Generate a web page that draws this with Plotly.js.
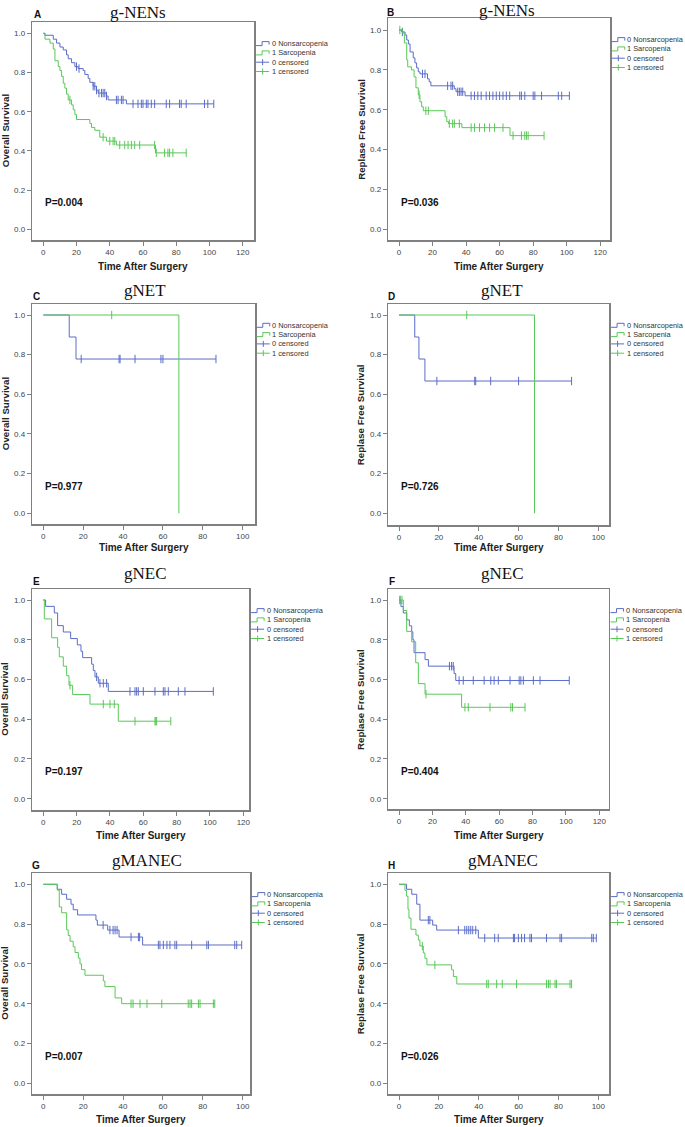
<!DOCTYPE html>
<html><head><meta charset="utf-8">
<script src="https://cdn.plot.ly/plotly-3.0.1.min.js"></script>
<style>html,body{margin:0;padding:0;background:#fff}#chart{width:685px;height:1127px}</style>
</head><body><div id="chart"></div>
<script>
// ---------- DATA ----------
// Panel A: Overall Survival, g-NENs
const A_non_t = [0, 1, 6, 8, 10, 12, 14, 15, 17, 19, 21, 24, 25, 27, 28, 30, 32, 33, 38, 39, 50];
const A_non_s = [1.0, 0.99, 0.97, 0.95, 0.93, 0.915, 0.89, 0.87, 0.85, 0.83, 0.82, 0.81, 0.79, 0.77, 0.75, 0.73, 0.71, 0.695, 0.68, 0.66, 0.64];
const A_non_end = 102.6;
const A_non_c = [20, 21.5, 30, 31, 32, 33.5, 35, 36, 37, 38, 44, 45, 47, 48, 54, 57, 59, 60, 62, 63, 65, 67, 74, 76, 82, 83, 86, 97, 99, 102.6];
const A_sar_t = [0, 1, 4, 6, 7, 9, 10, 11, 12, 13, 14, 15, 17, 18, 19, 20, 28, 29, 31, 34, 38, 44, 67.5];
const A_sar_s = [1.0, 0.97, 0.95, 0.92, 0.86, 0.83, 0.81, 0.78, 0.745, 0.72, 0.69, 0.66, 0.635, 0.61, 0.585, 0.56, 0.54, 0.52, 0.505, 0.47, 0.45, 0.43, 0.39];
const A_sar_end = 86;
const A_sar_c = [16, 36, 40, 42, 43, 46, 49, 51, 53, 55, 58, 67, 68, 73, 75, 76, 78, 86];

// Panel B: Replase Free Survival, g-NENs
const B_non_t = [0, 1.6, 3.6, 4.6, 5.6, 6.6, 8.5, 9.5, 10.5, 11.5, 12.5, 17, 18, 19, 33, 34, 39.4];
const B_non_s = [1.0, 0.99, 0.975, 0.95, 0.93, 0.89, 0.86, 0.835, 0.81, 0.79, 0.78, 0.755, 0.74, 0.72, 0.705, 0.69, 0.67];
const B_non_end = 101.6;
const B_non_c = [2, 14, 15.5, 29, 31, 32, 35, 36, 37, 38, 43, 45, 47, 49, 52, 54, 56, 58, 60, 62, 64, 66, 72, 73, 75, 80, 81, 85, 95, 97, 101.6];
const B_sar_t = [0, 2.2, 3.2, 4.6, 5.2, 7.5, 9, 10.1, 11.5, 12.5, 13.5, 14.5, 27.5, 28.5, 29.5, 37.5, 66.2];
const B_sar_s = [1.0, 0.985, 0.935, 0.85, 0.815, 0.80, 0.765, 0.71, 0.675, 0.64, 0.615, 0.595, 0.565, 0.54, 0.53, 0.51, 0.47];
const B_sar_end = 86.5;
const B_sar_c = [0.5, 12, 16, 17.5, 30, 32, 33, 36, 43, 45, 48, 51, 54, 57, 62, 68, 73, 75, 76, 77, 86.5];

// Panel C: Overall Survival, gNET
const C_non_t = [0, 13, 16.4];
const C_non_s = [1.0, 0.889, 0.778];
const C_non_end = 86.6;
const C_non_c = [19, 38, 38.5, 46, 59, 60, 86.6];
const C_sar_t = [0, 68];
const C_sar_s = [1.0, 0.0];
const C_sar_end = 68;
const C_sar_c = [34.3];

// Panel D: Replase Free Survival, gNET
const D_non_t = [0, 7.9, 10, 13];
const D_non_s = [1.0, 0.889, 0.778, 0.667];
const D_non_end = 86.6;
const D_non_c = [19, 38, 38.5, 46, 60, 86.6];
const D_sar_t = [0, 68];
const D_sar_s = [1.0, 0.0];
const D_sar_end = 68;
const D_sar_c = [34];

// Panel E: Overall Survival, gNEC
const E_non_t = [0, 1.4, 6.6, 8.6, 12, 16.4, 20.4, 22.6, 23.6, 29, 30, 31, 33, 39];
const E_non_s = [1.0, 0.968, 0.935, 0.871, 0.839, 0.806, 0.774, 0.742, 0.71, 0.677, 0.645, 0.613, 0.581, 0.54];
const E_non_end = 102;
const E_non_c = [32, 34, 36, 38, 52, 55, 56, 57, 60, 67, 72, 73, 75, 81, 85, 102];
const E_sar_t = [0, 0.6, 5, 8.6, 9.6, 12, 14, 15.4, 17.6, 28, 45];
const E_sar_s = [1.0, 0.905, 0.81, 0.762, 0.714, 0.667, 0.619, 0.571, 0.524, 0.476, 0.39];
const E_sar_end = 76.5;
const E_sar_c = [16, 36, 40, 42.6, 55, 67, 67.5, 68, 76.5];

// Panel F: Replase Free Survival, gNEC
const F_non_t = [0, 1.2, 2.6, 4.6, 6.2, 7.6, 8.3, 9, 15.6, 17.6, 33, 34];
const F_non_s = [1.0, 0.967, 0.935, 0.90, 0.87, 0.84, 0.80, 0.735, 0.70, 0.667, 0.63, 0.595];
const F_non_end = 102;
const F_non_c = [0.6, 30.2, 31.5, 32.5, 36, 38.5, 44.5, 51, 55, 57, 59.5, 66.5, 72, 73, 74.5, 80.5, 84.5, 102];
const F_sar_t = [0, 2.6, 4.6, 7.6, 10, 11.6, 15.6, 37.5];
const F_sar_s = [1.0, 0.947, 0.842, 0.79, 0.684, 0.579, 0.526, 0.46];
const F_sar_end = 75.5;
const F_sar_c = [0.6, 1.8, 16.2, 39.5, 41.5, 54.5, 67, 68, 75.5];

// Panel G: Overall Survival, gMANEC
const G_non_t = [0, 7, 9.2, 11.7, 13.9, 15, 17.2, 26.4, 27.1, 32.3, 38, 49.8];
const G_non_s = [1.0, 0.975, 0.95, 0.925, 0.9, 0.872, 0.846, 0.82, 0.795, 0.77, 0.735, 0.695];
const G_non_end = 99.5;
const G_non_c = [30, 33.4, 35, 36, 37, 44, 47.7, 48.3, 57.7, 58.5, 60.2, 62, 63.5, 66, 66.9, 74.4, 82, 82.8, 96, 97, 99.5];
const G_sar_t = [0, 7, 8, 9.2, 11.7, 12.5, 13.4, 15, 15.9, 17.6, 18.4, 19.2, 20.9, 30.1, 30.9, 36, 39.3];
const G_sar_s = [1.0, 0.971, 0.886, 0.857, 0.771, 0.743, 0.714, 0.686, 0.657, 0.629, 0.6, 0.571, 0.543, 0.514, 0.486, 0.429, 0.40];
const G_sar_end = 86;
const G_sar_c = [44, 45, 48.5, 52, 59.4, 72.7, 73.6, 74.4, 77.8, 78.6, 85.3, 86];

// Panel H: Replase Free Survival, gMANEC
const H_non_t = [0, 3.8, 6.4, 8.9, 10.5, 16.9, 18.9, 39.8];
const H_non_s = [1.0, 0.975, 0.95, 0.9, 0.82, 0.795, 0.77, 0.73];
const H_non_end = 99;
const H_non_c = [14.7, 15.5, 29.8, 33, 34, 35, 36, 37, 38.5, 43, 48, 49.8, 57.4, 58, 59.9, 61.5, 63, 65.7, 66.5, 74, 80.8, 81.6, 96.7, 97.5, 99];
const H_sar_t = [0, 3, 3.8, 4.5, 5, 6, 8.5, 9.7, 10.5, 12.2, 13, 14, 26.4, 27.3, 29];
const H_sar_s = [1.0, 0.97, 0.94, 0.874, 0.83, 0.774, 0.745, 0.72, 0.69, 0.655, 0.628, 0.595, 0.57, 0.536, 0.499];
const H_sar_end = 86.6;
const H_sar_c = [11.7, 18, 44, 44.8, 49, 51.8, 59, 74, 75, 75.8, 78.3, 79, 85.8, 86.6];

// Texts
const panelLetters = ['A','B','C','D','E','F','G','H'];
const panelTitles = ['g-NENs','g-NENs','gNET','gNET','gNEC','gNEC','gMANEC','gMANEC'];
const yTitles = ['Overall Survival','Replase Free Survival','Overall Survival','Replase Free Survival','Overall Survival','Replase Free Survival','Overall Survival','Replase Free Survival'];
const pValues = ['P=0.004','P=0.036','P=0.977','P=0.726','P=0.197','P=0.404','P=0.007','P=0.026'];
const xMaxTick = [120,120,100,100,120,120,100,100];
const legendLabels = ['0 Nonsarcopenia','1 Sarcopenia','0 censored','1 censored'];
const xTitle = 'Time After Surgery';

// ---------- LAYOUT GEOMETRY (pixels) ----------
const W = 685, H = 1127;
const geo = [
 {l:32.3, t:22.3, r:254.3, b:240,   x0:43.3, xu:199.4/120, y1:33.3,  y0:229.3, tx:138,   ty:12.5, lx:37,    ly:15,   ytx:5,     xty:266.3},
 {l:388.3,t:18.3, r:610,   b:240,   x0:399,  xu:167.7/100, y1:30,    y0:229.3, tx:506.7, ty:10,   lx:390,   ly:12.7, ytx:360.7, xty:266.7},
 {l:32.3, t:304,  r:255,   b:524.3, x0:43.3, xu:199.4/100, y1:315,   y0:513.3, tx:145,   ty:290,  lx:36,    ly:296.7,ytx:5,     xty:547},
 {l:388.3,t:304,  r:609.3, b:525,   x0:399,  xu:199.3/100, y1:315,   y0:513.3, tx:501.7, ty:290,  lx:391.7, ly:296.7,ytx:360.7, xty:547},
 {l:32.3, t:589.3,r:249.3, b:810,   x0:43.3, xu:200/120,   y1:600,   y0:798.7, tx:145.7, ty:573,  lx:36,    ly:581.7,ytx:5,     xty:835},
 {l:388.3,t:589.3,r:608.7, b:809.3, x0:399,  xu:200.3/120, y1:600,   y0:798.7, tx:502.7, ty:573,  lx:391.7, ly:581.7,ytx:360.7, xty:835},
 {l:32.3, t:873.3,r:250,   b:1094,  x0:43.3, xu:199.4/100, y1:884.3, y0:1083.3,tx:146.7, ty:860.7,lx:36,    ly:865,  ytx:5,     xty:1119},
 {l:388.3,t:873.3,r:609.3, b:1094,  x0:399,  xu:199.3/100, y1:884.3, y0:1083.3,tx:503,   ty:860.7,lx:391.7, ly:865,  ytx:360.7, xty:1119}
];

const curves = [
 {non:[A_non_t,A_non_s,A_non_end,A_non_c], sar:[A_sar_t,A_sar_s,A_sar_end,A_sar_c]},
 {non:[B_non_t,B_non_s,B_non_end,B_non_c], sar:[B_sar_t,B_sar_s,B_sar_end,B_sar_c]},
 {non:[C_non_t,C_non_s,C_non_end,C_non_c], sar:[C_sar_t,C_sar_s,C_sar_end,C_sar_c]},
 {non:[D_non_t,D_non_s,D_non_end,D_non_c], sar:[D_sar_t,D_sar_s,D_sar_end,D_sar_c]},
 {non:[E_non_t,E_non_s,E_non_end,E_non_c], sar:[E_sar_t,E_sar_s,E_sar_end,E_sar_c]},
 {non:[F_non_t,F_non_s,F_non_end,F_non_c], sar:[F_sar_t,F_sar_s,F_sar_end,F_sar_c]},
 {non:[G_non_t,G_non_s,G_non_end,G_non_c], sar:[G_sar_t,G_sar_s,G_sar_end,G_sar_c]},
 {non:[H_non_t,H_non_s,H_non_end,H_non_c], sar:[H_sar_t,H_sar_s,H_sar_end,H_sar_c]}
];

const BLUE = '#5a6cc8', GREEN = '#58c858';
const SANS = 'Liberation Sans, Arial, sans-serif';
const SERIF = 'Liberation Serif, Times New Roman, serif';
const px = x => x / W, py = y => 1 - y / H;

function stepAt(t, s, x) {
  let v = s[0];
  for (let i = 0; i < t.length; i++) { if (t[i] <= x) v = s[i]; }
  return v;
}

const traces = [], annotations = [], shapes = [];
const layout = {
  width: W, height: H, margin: {l:0, r:0, t:0, b:0},
  paper_bgcolor: '#fff', plot_bgcolor: '#fff',
  showlegend: false, hovermode: false
};

geo.forEach((g, i) => {
  const n = i + 1;
  const xa = 'xaxis' + (n === 1 ? '' : n), ya = 'yaxis' + (n === 1 ? '' : n);
  const xr = 'x' + (n === 1 ? '' : n), yr = 'y' + (n === 1 ? '' : n);
  const yu = g.y0 - g.y1;
  const ticks = []; for (let v = 0; v <= xMaxTick[i]; v += 20) ticks.push(v);
  const axisCommon = {
    showgrid: false, zeroline: false, showline: true, mirror: true,
    linecolor: '#808080', linewidth: 1.5, ticks: 'outside', ticklen: 4,
    tickcolor: '#808080', tickwidth: 1, tickfont: {family: SANS, size: 8, color: '#444'},
    fixedrange: true
  };
  layout[xa] = Object.assign({}, axisCommon, {
    domain: [px(g.l), px(g.r)], anchor: yr,
    range: [(g.l - g.x0) / g.xu, (g.r - g.x0) / g.xu],
    tickvals: ticks
  });
  layout[ya] = Object.assign({}, axisCommon, {
    domain: [py(g.b), py(g.t)], anchor: xr,
    range: [-(g.b - g.y0) / yu, 1 + (g.y1 - g.t) / yu],
    tickvals: [0, 0.2, 0.4, 0.6, 0.8, 1.0], tickformat: '.1f'
  });

  [['non', BLUE], ['sar', GREEN]].forEach(([key, col]) => {
    const [t, s, end, c] = curves[i][key];
    const xs = t.slice(), ys = s.slice();
    if (end > t[t.length - 1]) { xs.push(end); ys.push(s[s.length - 1]); }
    traces.push({x: xs, y: ys, xaxis: xr, yaxis: yr, type: 'scatter', mode: 'lines',
      line: {shape: 'hv', color: col, width: 1}});
    traces.push({x: c, y: c.map(v => stepAt(t, s, v)), xaxis: xr, yaxis: yr, type: 'scatter', mode: 'markers',
      marker: {symbol: 'line-ns-open', size: 6, color: col, line: {color: col, width: 1}}});
  });

  // Titles and labels
  annotations.push({text: panelTitles[i], xref: 'paper', yref: 'paper', x: px(g.tx), y: py(g.ty),
    xanchor: 'center', yanchor: 'middle', showarrow: false, font: {family: SERIF, size: 17, color: '#111'}});
  annotations.push({text: '<b>' + panelLetters[i] + '</b>', xref: 'paper', yref: 'paper', x: px(g.lx), y: py(g.ly),
    xanchor: 'center', yanchor: 'middle', showarrow: false, font: {family: SANS, size: 10, color: '#111'}});
  annotations.push({text: '<b>' + yTitles[i] + '</b>', xref: 'paper', yref: 'paper', x: px(g.ytx), y: py((g.t + g.b) / 2),
    xanchor: 'center', yanchor: 'middle', textangle: -90, showarrow: false, font: {family: SANS, size: 9.7, color: '#222'}});
  annotations.push({text: '<b>' + xTitle + '</b>', xref: 'paper', yref: 'paper', x: px((g.l + g.r) / 2), y: py(g.xty),
    xanchor: 'center', yanchor: 'middle', showarrow: false, font: {family: SANS, size: 10, color: '#222'}});
  annotations.push({text: '<b>' + pValues[i] + '</b>', xref: xr, yref: yr, x: 0, y: 0.135,
    xanchor: 'left', yanchor: 'middle', showarrow: false, font: {family: SANS, size: 10, color: '#111'}});

  // Manual legend
  const lx0 = g.r + 1.8, lw = 13, ly0 = g.t + 21.3, dy = 9.3;
  legendLabels.forEach((lab, k) => {
    const yy = ly0 + k * dy;
    const col = (k % 2 === 0) ? BLUE : GREEN;
    annotations.push({text: lab, xref: 'paper', yref: 'paper', x: px(lx0 + lw + 0.5), y: py(yy),
      xanchor: 'left', yanchor: 'middle', showarrow: false, font: {family: SANS, size: 7.4, color: '#333'}});
    if (k < 2) {
      const path = `M ${px(lx0)} ${py(yy + 2)} L ${px(lx0 + 6)} ${py(yy + 2)} L ${px(lx0 + 6)} ${py(yy - 2)} L ${px(lx0 + lw)} ${py(yy - 2)} L ${px(lx0 + lw)} ${py(yy + 1)}`;
      shapes.push({type: 'path', xref: 'paper', yref: 'paper', path: path, line: {color: col, width: 1}});
    } else {
      shapes.push({type: 'line', xref: 'paper', yref: 'paper', x0: px(lx0), x1: px(lx0 + lw), y0: py(yy), y1: py(yy), line: {color: col, width: 1}});
      shapes.push({type: 'line', xref: 'paper', yref: 'paper', x0: px(lx0 + 6.5), x1: px(lx0 + 6.5), y0: py(yy - 3), y1: py(yy + 3), line: {color: col, width: 1}});
    }
  });
});

layout.annotations = annotations;
layout.shapes = shapes;
Plotly.newPlot('chart', traces, layout, {displayModeBar: false, staticPlot: true});
</script>
</body></html>
